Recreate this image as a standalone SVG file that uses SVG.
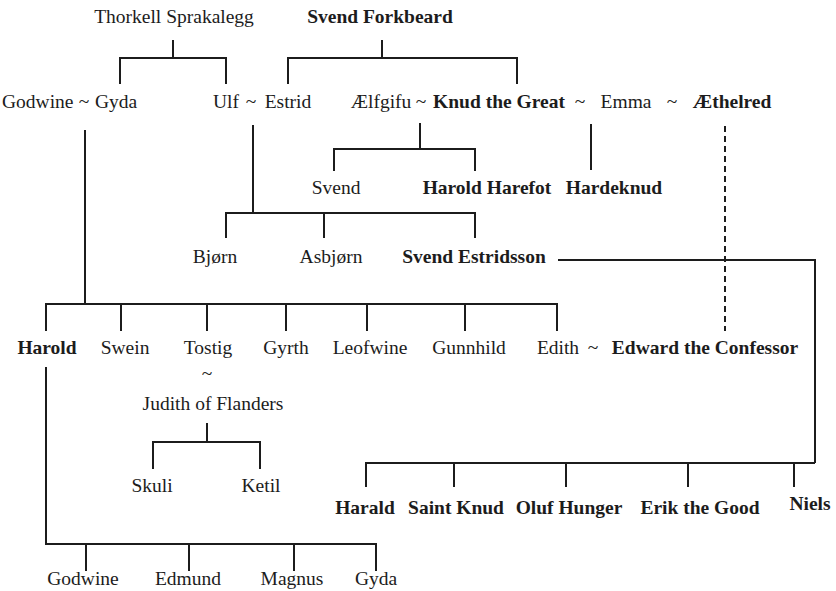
<svg xmlns="http://www.w3.org/2000/svg" width="836" height="591" viewBox="0 0 836 591">
<style>
text{font-family:"Liberation Serif","Times New Roman",serif;font-size:19.5px;fill:#1c1c1c;text-anchor:middle}
.b{font-weight:bold}
.s{text-anchor:start}
.ln{fill:none;stroke:#1c1c1c;stroke-width:2}
.d{stroke-dasharray:6 4}
</style>
<rect width="836" height="591" fill="#fff"/>
<g id="connectors">
<path class="ln" d="M173 40V58M120 84V58H226V84"/>
<path class="ln" d="M382 40V58M288 84V58H517V84"/>
<path class="ln" d="M85 130V304M46 331V304H557V331M121 304V331M207 304V331M286 304V331M367 304V331M465 304V331"/>
<path class="ln" d="M253 125V213M226 238V213H475V238M324 213V238"/>
<path class="ln" d="M420 123V149M334 171V149H475V171"/>
<path class="ln" d="M591 124V170"/>
<path class="ln d" d="M725 126V331"/>
<path class="ln" d="M558 260H815V463M366 487V463H815M454 463V487M566 463V487M688 463V487M794 463V487"/>
<path class="ln" d="M207 423V442M153 469V442H260V469"/>
<path class="ln" d="M46 367V544H376V571M86 544V571M189 544V571M294 544V571"/>
</g>
<g id="thorkell"><text x="174" y="23">Thorkell Sprakalegg</text></g>
<g id="svend-forkbeard"><text class="b" x="380" y="23">Svend Forkbeard</text></g>
<g id="godwine-gyda"><text class="s" x="2" y="108">Godwine</text><text x="84" y="108">~</text><text class="s" x="95" y="108">Gyda</text></g>
<g id="ulf-estrid"><text x="226" y="108">Ulf</text><text x="251" y="108">~</text><text x="288" y="108">Estrid</text></g>
<g id="knud-family"><text x="381" y="108">Ælfgifu</text><text x="421" y="108">~</text><text class="b" x="499" y="108">Knud the Great</text><text x="580" y="108">~</text><text x="626" y="108">Emma</text><text x="672" y="108">~</text><text class="b" x="732" y="108">Æthelred</text></g>
<g id="svend"><text x="336" y="194">Svend</text></g>
<g id="harold-harefot"><text class="b" x="487" y="194">Harold Harefot</text></g>
<g id="hardeknud"><text class="b" x="614" y="194">Hardeknud</text></g>
<g id="bjorn"><text x="215" y="263">Bjørn</text></g>
<g id="asbjorn"><text x="331" y="263">Asbjørn</text></g>
<g id="svend-estridsson"><text class="b" x="474" y="263">Svend Estridsson</text></g>
<g id="harold"><text class="b" x="47" y="354">Harold</text></g>
<g id="swein"><text x="125" y="354">Swein</text></g>
<g id="tostig"><text x="208" y="354">Tostig</text><text x="207" y="380">~</text><text x="213" y="410">Judith of Flanders</text></g>
<g id="gyrth"><text x="286" y="354">Gyrth</text></g>
<g id="leofwine"><text x="370" y="354">Leofwine</text></g>
<g id="gunnhild"><text x="469" y="354">Gunnhild</text></g>
<g id="edith-edward"><text x="558" y="354">Edith</text><text x="593" y="354">~</text><text class="b" x="705" y="354">Edward the Confessor</text></g>
<g id="skuli"><text x="152" y="492">Skuli</text></g>
<g id="ketil"><text x="261" y="492">Ketil</text></g>
<g id="harald"><text class="b" x="365" y="514">Harald</text></g>
<g id="saint-knud"><text class="b" x="456" y="514">Saint Knud</text></g>
<g id="oluf-hunger"><text class="b" x="569" y="514">Oluf Hunger</text></g>
<g id="erik-the-good"><text class="b" x="700" y="514">Erik the Good</text></g>
<g id="niels"><text class="b" x="810" y="510">Niels</text></g>
<g id="godwine2"><text x="83" y="585">Godwine</text></g>
<g id="edmund"><text x="188" y="585">Edmund</text></g>
<g id="magnus"><text x="292" y="585">Magnus</text></g>
<g id="gyda2"><text x="376" y="585">Gyda</text></g>
</svg>
